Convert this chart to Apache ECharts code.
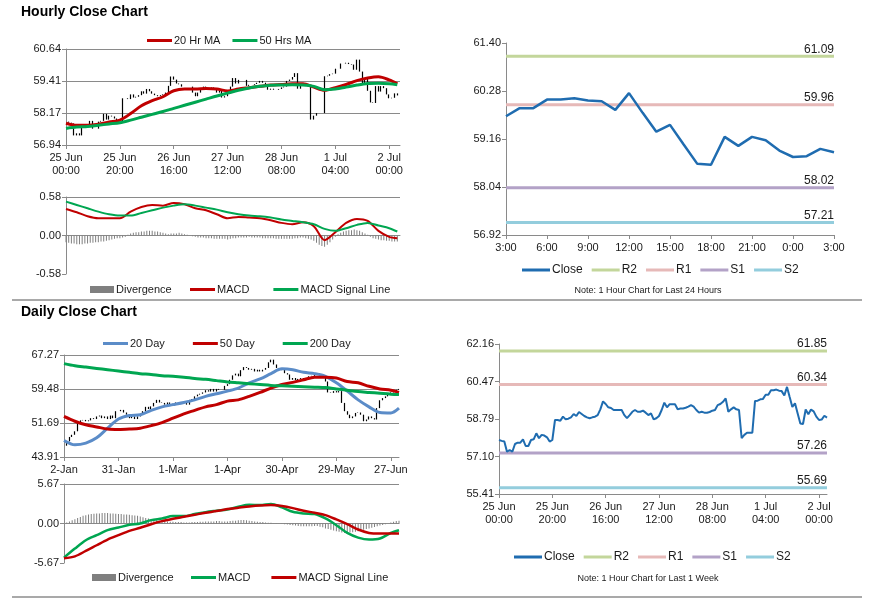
<!DOCTYPE html>
<html><head><meta charset="utf-8">
<script src="https://cdn.jsdelivr.net/npm/echarts@6/dist/echarts.min.js"></script>
<style>html,body{margin:0;padding:0;background:#fff}#c{width:873px;height:601px}</style>
</head><body><div id="c"></div><script>
// ---------- DATA ----------
const hourlyTicks = ['25 Jun\n00:00','25 Jun\n20:00','26 Jun\n16:00','27 Jun\n12:00','28 Jun\n08:00','1 Jul\n04:00','2 Jul\n00:00'];
const hourlyClose = [
57.84,57.80,57.77,57.31,57.39,57.31,57.66,57.72,57.72,57.87,
57.57,57.57,57.84,57.87,58.14,57.92,58.07,58.04,57.96,57.77,
57.84,58.74,58.74,58.71,58.89,58.77,58.80,58.86,59.01,58.92,
59.10,59.01,58.92,58.86,58.82,58.86,58.89,58.96,59.22,59.58,
59.46,59.31,59.28,59.19,59.19,59.19,59.19,58.96,58.82,58.96,
59.11,59.19,59.11,59.11,59.16,59.07,58.96,59.04,58.77,58.82,
58.92,59.19,59.52,59.31,59.45,59.45,59.45,59.22,59.26,59.26,
59.29,59.34,59.41,59.34,59.19,59.07,59.11,59.07,59.07,59.10,
59.16,59.19,59.41,59.46,59.56,59.71,59.11,59.22,59.31,59.22,
59.19,57.92,58.07,58.17,58.17,58.17,59.59,59.61,59.67,59.69,
59.88,59.88,60.08,60.08,60.11,60.06,60.04,59.84,60.23,59.77,
59.33,59.49,59.03,58.58,58.56,59.21,59.00,59.21,59.13,58.89,
58.74,58.76,58.93,58.85];
// moving averages / MACD sampled every 4 hours (last sample = last hour)
const hourlyMA20 = [57.78,57.70,57.70,57.74,57.83,57.90,58.15,58.45,58.65,58.80,59.03,59.10,59.10,59.12,59.10,59.02,59.10,59.15,59.20,59.25,59.27,59.30,59.30,59.17,59.05,59.15,59.27,59.42,59.52,59.57,59.45,59.30];
const hourlyMA50 = [57.58,57.63,57.65,57.70,57.75,57.80,57.90,58.01,58.12,58.23,58.35,58.47,58.59,58.71,58.83,58.94,59.05,59.14,59.20,59.24,59.25,59.26,59.25,59.20,59.07,59.10,59.17,59.25,59.31,59.32,59.30,59.26];
const hourlyMACD = [0.40,0.35,0.29,0.26,0.26,0.26,0.36,0.43,0.46,0.45,0.49,0.47,0.41,0.38,0.32,0.26,0.28,0.27,0.26,0.23,0.19,0.17,0.20,0.14,-0.07,0.05,0.19,0.25,0.22,0.07,-0.02,-0.04];
const hourlySignal = [0.51,0.46,0.41,0.36,0.32,0.30,0.30,0.34,0.38,0.42,0.45,0.47,0.45,0.42,0.39,0.35,0.32,0.30,0.29,0.27,0.24,0.22,0.20,0.17,0.10,0.07,0.11,0.16,0.19,0.15,0.11,0.06];
const hourlyDivergence = [
-0.10,-0.11,-0.12,-0.12,-0.13,-0.13,-0.13,-0.12,-0.12,-0.11,
-0.11,-0.10,-0.10,-0.09,-0.09,-0.08,-0.07,-0.06,-0.05,-0.04,
-0.04,-0.03,-0.02,0.01,0.03,0.04,0.05,0.05,0.06,0.06,
0.07,0.07,0.07,0.06,0.06,0.05,0.04,0.03,0.02,0.03,
0.03,0.03,0.04,0.03,0.02,0.01,0.00,-0.01,-0.02,-0.03,
-0.03,-0.03,-0.04,-0.04,-0.04,-0.05,-0.05,-0.05,-0.05,-0.05,
-0.06,-0.05,-0.04,-0.04,-0.03,-0.03,-0.03,-0.03,-0.02,-0.03,
-0.03,-0.03,-0.03,-0.04,-0.04,-0.04,-0.04,-0.04,-0.05,-0.05,
-0.05,-0.05,-0.05,-0.05,-0.05,-0.04,-0.04,-0.03,-0.03,-0.04,
-0.05,-0.06,-0.08,-0.11,-0.14,-0.16,-0.17,-0.14,-0.10,-0.06,
-0.02,0.02,0.04,0.06,0.07,0.08,0.08,0.09,0.08,0.07,
0.05,0.03,0.01,-0.02,-0.04,-0.05,-0.06,-0.07,-0.07,-0.08,
-0.08,-0.09,-0.09,-0.09];
const hourlyPriceTicks = [56.94,58.17,59.41,60.64];
const hourlyMacdTicks = [-0.58,0,0.58];

const last24Labels = ['3:00','4:00','5:00','6:00','7:00','8:00','9:00','10:00','11:00','12:00','13:00','14:00','15:00','16:00','17:00','18:00','19:00','20:00','21:00','22:00','23:00','0:00','1:00','2:00','3:00'];
const last24Ticks = [56.92,58.04,59.16,60.28,61.40];
const levelNames = ['R2','R1','S1','S2'];
const levelColors = ['#C3D69B','#E6B9B8','#B3A2C7','#93CDDD'];
const levels24 = [61.09,59.96,58.02,57.21];
const levelsWeek = [61.85,60.34,57.26,55.69];
const weekTicks = [55.41,57.10,58.79,60.47,62.16];

const dailyTicks = ['2-Jan','31-Jan','1-Mar','1-Apr','30-Apr','29-May','27-Jun'];
const dailyClose = [
46.5,47.5,48.5,49.0,49.8,51.8,52.3,52.4,52.1,52.3,
52.8,52.6,53.2,53.4,52.8,53.2,52.6,53.4,52.8,54.4,
54.4,54.7,54.1,53.6,52.8,53.2,52.6,53.2,53.8,54.4,
55.4,54.9,55.5,56.3,57.0,56.4,56.3,55.9,56.4,55.9,
56.1,56.4,56.1,56.4,56.7,55.9,57.0,57.2,57.8,58.2,
58.4,58.7,59.2,58.9,59.5,58.9,59.5,59.3,59.3,60.2,
60.6,61.6,62.6,63.0,62.4,63.8,64.5,64.3,63.9,64.1,
63.5,63.9,63.5,63.9,64.3,65.6,66.2,65.1,64.3,63.8,
64.1,63.1,62.8,61.6,62.0,61.5,61.8,62.0,61.6,62.0,
62.4,62.5,63.0,63.1,62.8,62.5,61.2,58.7,58.6,59.0,
58.7,59.0,56.3,54.4,53.6,52.8,53.2,54.0,54.1,53.6,
52.1,52.5,53.2,52.8,52.5,55.1,56.9,57.4,57.8,58.4,
58.7,59.0,59.3,59.5];
const dailyMA20 = [47.7,46.7,47.1,48.3,50.5,52.6,53.4,53.6,54.6,55.4,55.9,56.4,57.0,57.8,58.4,59.0,59.7,60.9,61.8,63.0,64.1,63.9,63.3,63.0,62.4,60.9,59.0,57.0,55.4,54.1,54.0,55.1];
const dailyMA50 = [53.2,52.1,51.3,50.8,50.3,50.2,50.3,50.5,51.1,51.8,52.8,53.8,54.6,55.4,55.9,56.7,57.0,57.8,58.7,59.7,60.5,61.0,61.6,62.2,62.2,62.0,61.2,60.9,60.1,59.5,59.2,58.7];
const dailyMA200 = [65.3,64.8,64.5,64.2,63.9,63.6,63.3,63.0,62.8,62.5,62.4,62.2,61.9,61.7,61.4,61.1,60.9,60.7,60.5,60.3,60.2,60.1,60.0,59.9,59.8,59.5,59.2,58.9,58.7,58.5,58.3,58.2];
const dailyMACD = [-4.90,-3.60,-2.40,-1.68,-0.96,-0.58,-0.19,0.00,0.48,0.72,1.06,1.06,1.35,1.63,1.83,2.02,2.40,2.69,2.64,2.79,2.31,1.68,1.44,1.35,0.72,-0.24,-1.35,-2.02,-2.31,-2.16,-1.35,-0.96];
const dailySignal = [-5.00,-4.71,-3.94,-3.12,-2.31,-1.68,-1.06,-0.62,-0.10,0.34,0.67,0.96,1.25,1.54,1.78,2.07,2.26,2.45,2.59,2.64,2.50,2.21,1.83,1.54,1.20,0.58,-0.10,-0.86,-1.35,-1.44,-1.44,-1.44];
const dailyDivergence = [
0.05,0.15,0.30,0.45,0.60,0.80,0.95,1.10,1.20,1.30,
1.35,1.40,1.45,1.45,1.50,1.50,1.50,1.45,1.45,1.40,
1.35,1.35,1.30,1.30,1.25,1.20,1.15,1.10,1.00,0.90,
0.80,0.70,0.60,0.50,0.45,0.40,0.35,0.30,0.30,0.25,
0.25,0.20,0.20,0.20,0.15,0.15,0.15,0.20,0.20,0.20,
0.25,0.25,0.30,0.30,0.30,0.30,0.35,0.35,0.30,0.30,
0.30,0.35,0.40,0.40,0.45,0.50,0.50,0.45,0.40,0.35,
0.30,0.25,0.20,0.20,0.15,0.10,0.10,0.05,0.05,0.00,
-0.05,-0.10,-0.15,-0.20,-0.25,-0.30,-0.35,-0.40,-0.40,-0.40,
-0.40,-0.40,-0.35,-0.35,-0.45,-0.55,-0.70,-0.80,-0.90,-1.00,
-1.10,-1.20,-1.30,-1.35,-1.35,-1.30,-1.25,-1.20,-1.10,-1.00,
-0.90,-0.80,-0.70,-0.60,-0.50,-0.40,-0.30,-0.20,-0.10,0.00,
0.15,0.25,0.35,0.40];
const dailyPriceTicks = [43.91,51.69,59.48,67.27];
const dailyMacdTicks = [-5.67,0,5.67];

// ---------- HELPERS ----------
const FONT = 'Liberation Sans, Arial, sans-serif';
const AX = '#8a8a8a', TXT = '#1a1a1a';
const RED = '#C00000', GREEN = '#00A651', BLUE = '#1F6CB0', LBLUE = '#5B8CC8', GREY = '#7f7f7f';
const idx = n => Array.from({length: n}, (_, i) => i);
const ohlc = cl => cl.map((c, i) => { const o = i ? cl[i-1] : c; return [o, c, Math.min(o, c), Math.max(o, c)]; });
const sparse = (arr, last) => arr.map((v, i) => [Math.min(i * 4, last), v]);
function yAxis(gi, ticks, opts) {
  const step = (ticks[ticks.length-1] - ticks[0]) / (ticks.length - 1);
  return Object.assign({
    type: 'value', gridIndex: gi, min: ticks[0], max: ticks[ticks.length-1], interval: step,
    axisLine: {show: true, lineStyle: {color: AX, width: 1}},
    axisTick: {show: true, length: 4, lineStyle: {color: AX}},
    axisLabel: {fontSize: 11, color: TXT, fontFamily: FONT, margin: 5,
      formatter: v => { const k = Math.round((v - ticks[0]) / step); const t = ticks[k]; return t === undefined ? '' : t.toFixed(2); }},
    splitLine: {show: false}
  }, opts || {});
}
function xAxis(gi, data, labels, every, opts) {
  return Object.assign({
    type: 'category', gridIndex: gi, data: data, boundaryGap: false,
    axisLine: {show: true, lineStyle: {color: AX, width: 1}},
    axisTick: {show: !!labels, interval: every - 1, length: 4, lineStyle: {color: AX}},
    axisLabel: labels ? {show: true, interval: every - 1, fontSize: 11, lineHeight: 13, color: TXT, fontFamily: FONT, margin: 6,
      formatter: (v, i) => (typeof labels === 'function' ? labels(i) : (labels[i / every] || ''))} : {show: false},
    splitLine: {show: false}
  }, opts || {});
}
const line = (name, xi, data, color, width, extra) => Object.assign({
  name, type: 'line', xAxisIndex: xi, yAxisIndex: xi, data, showSymbol: false, symbol: 'none',
  lineStyle: {color, width}, itemStyle: {color}, silent: true, animation: false, z: 3
}, extra || {});
const levelSeries = (suffix, xi, values, lastIdx) => values.map((v, k) => line(levelNames[k] + suffix, xi,
  [{value: [0, v], label: {show: false}}, {value: [lastIdx, v], label: {show: true}}], levelColors[k], 3, {
    showSymbol: true, symbol: 'circle', symbolSize: 0.01,
    label: {show: true, position: 'top', align: 'right', distance: 1, fontSize: 12, color: TXT, fontFamily: FONT,
      formatter: p => p.value[1].toFixed(2)}, z: 2}));
const candle = (xi, closes) => ({
  type: 'candlestick', xAxisIndex: xi, yAxisIndex: xi, data: ohlc(closes), barWidth: 1, silent: true, animation: false,
  itemStyle: {color: '#000', color0: '#000', borderColor: '#000', borderColor0: '#000', borderWidth: 1.2}, z: 1
});
const bars = (name, xi, data) => ({
  name, type: 'bar', xAxisIndex: xi, yAxisIndex: xi, data, barWidth: 1, silent: true, animation: false,
  itemStyle: {color: GREY}, z: 1
});
const legend = (names, left, top, opts) => Object.assign({
  data: names, left, top, padding: 0, orient: 'horizontal', icon: 'rect', itemWidth: 25, itemHeight: 3, itemGap: 10,
  selectedMode: false, formatter: n => n.split('#')[0],
  textStyle: {fontSize: 11, color: TXT, fontFamily: FONT, padding: [0, 0, 0, -3]}
}, opts || {});
const gridLines = () => ({show: true, lineStyle: {color: AX, width: 1}});
const topOnly = {show: true, lineStyle: {color: ['rgba(0,0,0,0)', 'rgba(0,0,0,0)', AX], width: 1}};

const hCats = idx(125), dCats = idx(124), wCats = idx(124);

const option = {
  animation: false,
  textStyle: {fontFamily: FONT},
  title: [
    {text: 'Hourly Close Chart', left: 21, top: 5, padding: 0, textStyle: {fontSize: 14, fontWeight: 'bold', color: '#000', fontFamily: FONT}},
    {text: 'Daily Close Chart', left: 21, top: 305, padding: 0, textStyle: {fontSize: 14, fontWeight: 'bold', color: '#000', fontFamily: FONT}},
    {text: 'Note: 1 Hour Chart for Last 24 Hours', left: 648, top: 286, padding: 0, textAlign: 'center', textStyle: {fontSize: 9, fontWeight: 'normal', color: TXT, fontFamily: FONT}},
    {text: 'Note: 1 Hour Chart for Last 1 Week', left: 648, top: 574, padding: 0, textAlign: 'center', textStyle: {fontSize: 9, fontWeight: 'normal', color: TXT, fontFamily: FONT}}
  ],
  graphic: [
    {type: 'line', shape: {x1: 12, y1: 300, x2: 862, y2: 300}, style: {stroke: '#8c8c8c', lineWidth: 1.5}, silent: true},
    {type: 'line', shape: {x1: 12, y1: 597, x2: 862, y2: 597}, style: {stroke: '#8c8c8c', lineWidth: 1.5}, silent: true}
  ],
  legend: [
    legend(['20 Hr MA', '50 Hrs MA'], 147, 35, {itemGap: 12}),
    legend(['Divergence#h'], 90, 284, {itemHeight: 7, itemWidth: 24}),
    legend(['MACD#h', 'MACD Signal Line#h'], 190, 284, {itemGap: 24}),
    legend(['Close#24', 'R2#24', 'R1#24', 'S1#24', 'S2#24'], 522, 264, {itemWidth: 28, itemGap: 9, textStyle: {fontSize: 12, color: TXT, fontFamily: FONT, padding: [0,0,0,-3]}}),
    legend(['20 Day', '50 Day', '200 Day'], 103, 338, {itemGap: 28}),
    legend(['Divergence#d'], 92, 572, {itemHeight: 7, itemWidth: 24}),
    legend(['MACD#d', 'MACD Signal Line#d'], 191, 572, {itemGap: 21}),
    legend(['Close#w', 'R2#w', 'R1#w', 'S1#w', 'S2#w'], 514, 551, {itemWidth: 28, itemGap: 9, textStyle: {fontSize: 12, color: TXT, fontFamily: FONT, padding: [0,0,0,-3]}})
  ],
  grid: [
    {left: 66, top: 49, width: 334, height: 96},
    {left: 66, top: 197, width: 334, height: 77},
    {left: 506, top: 43, width: 328, height: 192},
    {left: 64, top: 355, width: 335, height: 102},
    {left: 64, top: 484, width: 335, height: 79},
    {left: 499, top: 344, width: 328, height: 150}
  ],
  xAxis: [
    xAxis(0, hCats, hourlyTicks, 20),
    xAxis(1, hCats, null, 20),
    xAxis(2, last24Labels, i => last24Labels[i], 3, {}),
    xAxis(3, dCats, dailyTicks, 20),
    xAxis(4, dCats, null, 20),
    xAxis(5, wCats, hourlyTicks, 20)
  ],
  yAxis: [
    yAxis(0, hourlyPriceTicks, {splitLine: gridLines()}),
    yAxis(1, hourlyMacdTicks, {splitLine: topOnly}),
    yAxis(2, last24Ticks),
    yAxis(3, dailyPriceTicks, {splitLine: gridLines()}),
    yAxis(4, dailyMacdTicks, {splitLine: topOnly}),
    yAxis(5, weekTicks)
  ],
  series: [
    candle(0, hourlyClose),
    line('20 Hr MA', 0, sparse(hourlyMA20, 123), RED, 3, {smooth: 0.3}),
    line('50 Hrs MA', 0, sparse(hourlyMA50, 123), GREEN, 3, {smooth: 0.3}),
    bars('Divergence#h', 1, hourlyDivergence),
    line('MACD#h', 1, sparse(hourlyMACD, 123), RED, 2, {smooth: 0.3}),
    line('MACD Signal Line#h', 1, sparse(hourlySignal, 123), GREEN, 2, {smooth: 0.3}),
    line('Close#24', 2, hourlyClose.slice(hourlyClose.length - last24Labels.length), BLUE, 2.5, {z: 4}),
    ...levelSeries('#24', 2, levels24, last24Labels.length - 1),
    candle(3, dailyClose),
    line('20 Day', 3, sparse(dailyMA20, 123), LBLUE, 3, {smooth: 0.3}),
    line('50 Day', 3, sparse(dailyMA50, 123), RED, 3, {smooth: 0.3}),
    line('200 Day', 3, sparse(dailyMA200, 123), GREEN, 3, {smooth: 0.3}),
    bars('Divergence#d', 4, dailyDivergence),
    line('MACD#d', 4, sparse(dailyMACD, 123), GREEN, 2.5, {smooth: 0.3}),
    line('MACD Signal Line#d', 4, sparse(dailySignal, 123), RED, 2.5, {smooth: 0.3}),
    line('Close#w', 5, hourlyClose, BLUE, 2, {z: 4}),
    ...levelSeries('#w', 5, levelsWeek, hourlyClose.length - 1)
  ]
};
const chart = echarts.init(document.getElementById('c'), null, {renderer: 'canvas'});
chart.setOption(option);
</script></body></html>
